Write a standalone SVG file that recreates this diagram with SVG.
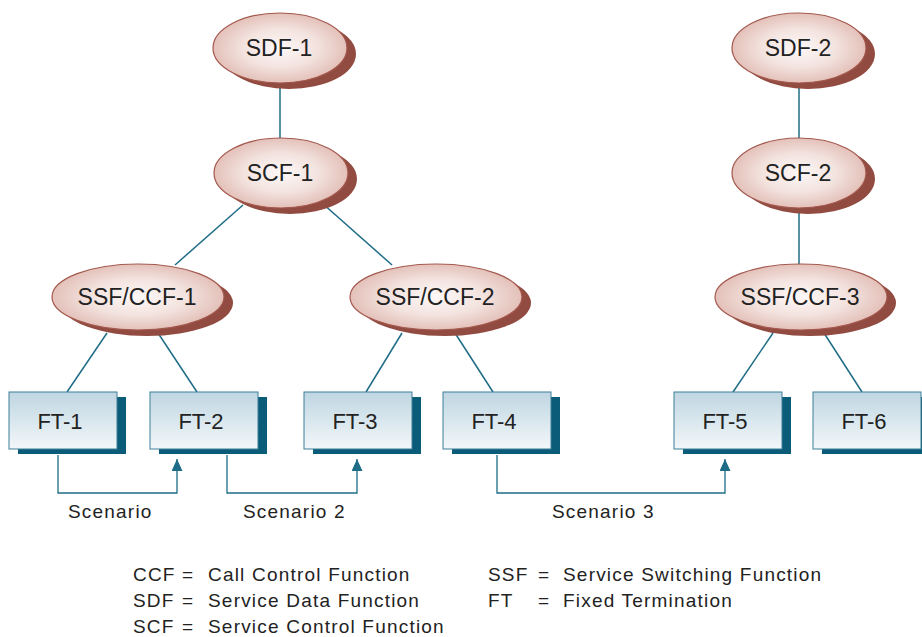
<svg xmlns="http://www.w3.org/2000/svg" width="922" height="637" viewBox="0 0 922 637">
  <style>
    .lbl { font-family: "Liberation Sans", Arial, sans-serif; font-size: 23px; fill: #222; text-anchor: middle; }
    .ft { font-family: "Liberation Sans", Arial, sans-serif; font-size: 22px; fill: #222; text-anchor: middle; }
    .note { font-family: "Liberation Sans", Arial, sans-serif; font-size: 19px; fill: #222; letter-spacing: 1.2px; }
    .shadow { fill: #914b40; }
    .oval { fill: url(#ovalFill); stroke: #a3584d; stroke-width: 1.2; }
    .bshadow { fill: #0b5c78; }
    .box { fill: url(#boxFill); stroke: #3d7f97; stroke-width: 1; }
    .link { stroke: #1e6c86; stroke-width: 1.5; fill: none; }
    .route { stroke: #1e6c86; stroke-width: 1.3; fill: none; marker-end: url(#arrow); }
  </style>
  <defs>
    <radialGradient id="ovalFill" cx="0.5" cy="0.5" r="0.55">
      <stop offset="0" stop-color="#fdf8f7"/>
      <stop offset="0.5" stop-color="#f3e3df"/>
      <stop offset="1" stop-color="#e0b9b1"/>
    </radialGradient>
    <linearGradient id="boxFill" x1="0" y1="0" x2="0" y2="1">
      <stop offset="0" stop-color="#bfd6e2"/>
      <stop offset="1" stop-color="#f2f7f9"/>
    </linearGradient>
    <marker id="arrow" markerWidth="12" markerHeight="11" refX="12" refY="5.5" orient="auto" markerUnits="userSpaceOnUse" viewBox="0 0 12 11">
      <path d="M0,0 L12,5.5 L0,11 Z" fill="#1e6c86"/>
    </marker>
  </defs>

  <!-- connectors -->
  <g id="connectors">
    <line class="link" x1="280" y1="82" x2="280" y2="140"/>
    <line class="link" x1="243" y1="205" x2="175" y2="265"/>
    <line class="link" x1="322" y1="203" x2="392" y2="265"/>
    <line class="link" x1="799" y1="82" x2="799" y2="140"/>
    <line class="link" x1="799" y1="206" x2="799" y2="265"/>
    <line class="link" x1="107" y1="333" x2="67" y2="392"/>
    <line class="link" x1="158" y1="333" x2="197" y2="392"/>
    <line class="link" x1="402" y1="333" x2="366" y2="392"/>
    <line class="link" x1="455" y1="333" x2="493" y2="392"/>
    <line class="link" x1="773" y1="333" x2="733" y2="392"/>
    <line class="link" x1="824" y1="333" x2="862" y2="392"/>
    <!-- scenario routes -->
    <path class="route" d="M58,455 V493 H177 V459"/>
    <path class="route" d="M227,455 V493 H357 V459"/>
    <path class="route" d="M497,455 V493 H725 V459"/>
  </g>

  <!-- service functions -->
  <g id="sdf1">
    <ellipse class="shadow" cx="289" cy="54" rx="67" ry="35"/>
    <ellipse class="oval" cx="280" cy="48" rx="67" ry="35"/>
    <text class="lbl" x="279" y="56">SDF-1</text>
  </g>
  <g id="scf1">
    <ellipse class="shadow" cx="290" cy="179" rx="67" ry="35"/>
    <ellipse class="oval" cx="281" cy="173" rx="67" ry="35"/>
    <text class="lbl" x="280" y="181">SCF-1</text>
  </g>
  <g id="ssf1">
    <ellipse class="shadow" cx="147" cy="303" rx="86" ry="33"/>
    <ellipse class="oval" cx="138" cy="297" rx="86" ry="33"/>
    <text class="lbl" x="137" y="305">SSF/CCF-1</text>
  </g>
  <g id="ssf2">
    <ellipse class="shadow" cx="445" cy="303" rx="86" ry="33"/>
    <ellipse class="oval" cx="436" cy="297" rx="86" ry="33"/>
    <text class="lbl" x="435" y="305">SSF/CCF-2</text>
  </g>
  <g id="sdf2">
    <ellipse class="shadow" cx="808" cy="54" rx="67" ry="35"/>
    <ellipse class="oval" cx="799" cy="48" rx="67" ry="35"/>
    <text class="lbl" x="798" y="56">SDF-2</text>
  </g>
  <g id="scf2">
    <ellipse class="shadow" cx="808" cy="179" rx="67" ry="35"/>
    <ellipse class="oval" cx="799" cy="173" rx="67" ry="35"/>
    <text class="lbl" x="798" y="181">SCF-2</text>
  </g>
  <g id="ssf3">
    <ellipse class="shadow" cx="810" cy="303" rx="86" ry="33"/>
    <ellipse class="oval" cx="801" cy="297" rx="86" ry="33"/>
    <text class="lbl" x="800" y="305">SSF/CCF-3</text>
  </g>

  <!-- fixed terminations -->
  <g id="ft1">
    <rect class="bshadow" x="18" y="397" width="108" height="57"/>
    <rect class="box" x="9" y="392" width="108" height="57"/>
    <text class="ft" x="60" y="429">FT-1</text>
  </g>
  <g id="ft2">
    <rect class="bshadow" x="159" y="397" width="108" height="57"/>
    <rect class="box" x="150" y="392" width="108" height="57"/>
    <text class="ft" x="201" y="429">FT-2</text>
  </g>
  <g id="ft3">
    <rect class="bshadow" x="313" y="397" width="108" height="57"/>
    <rect class="box" x="304" y="392" width="108" height="57"/>
    <text class="ft" x="355" y="429">FT-3</text>
  </g>
  <g id="ft4">
    <rect class="bshadow" x="452" y="397" width="108" height="57"/>
    <rect class="box" x="443" y="392" width="108" height="57"/>
    <text class="ft" x="494" y="429">FT-4</text>
  </g>
  <g id="ft5">
    <rect class="bshadow" x="683" y="397" width="108" height="57"/>
    <rect class="box" x="674" y="392" width="108" height="57"/>
    <text class="ft" x="725" y="429">FT-5</text>
  </g>
  <g id="ft6">
    <rect class="bshadow" x="822" y="397" width="108" height="57"/>
    <rect class="box" x="813" y="392" width="108" height="57"/>
    <text class="ft" x="864" y="429">FT-6</text>
  </g>

  <!-- scenario labels -->
  <g id="scenarios">
    <text class="note" x="68" y="518">Scenario</text>
    <text class="note" x="243" y="518">Scenario 2</text>
    <text class="note" x="552" y="518">Scenario 3</text>
  </g>

  <!-- legend -->
  <g id="legend">
    <text class="note" x="133" y="581">CCF</text>
    <text class="note" x="182" y="581">=</text>
    <text class="note" x="208" y="581">Call Control Function</text>
    <text class="note" x="133" y="607">SDF</text>
    <text class="note" x="182" y="607">=</text>
    <text class="note" x="208" y="607">Service Data Function</text>
    <text class="note" x="133" y="633">SCF</text>
    <text class="note" x="182" y="633">=</text>
    <text class="note" x="208" y="633">Service Control Function</text>
    <text class="note" x="488" y="581">SSF</text>
    <text class="note" x="538" y="581">=</text>
    <text class="note" x="563" y="581">Service Switching Function</text>
    <text class="note" x="488" y="607">FT</text>
    <text class="note" x="538" y="607">=</text>
    <text class="note" x="563" y="607">Fixed Termination</text>
  </g>
</svg>
